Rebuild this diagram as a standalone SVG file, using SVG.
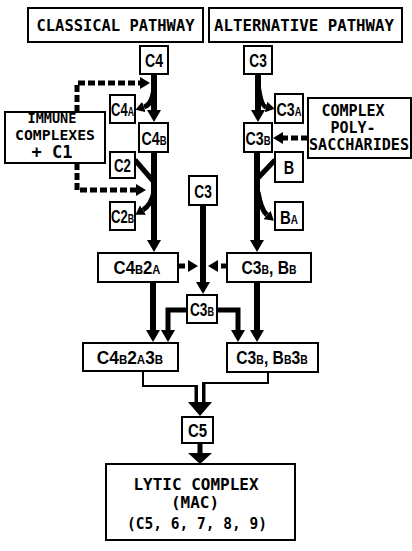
<svg xmlns="http://www.w3.org/2000/svg" width="412" height="551" viewBox="0 0 412 551">
<defs>
<style>
.box{fill:#fff;stroke:#000;stroke-width:2}
.th{fill:none;stroke:#000;stroke-width:6}
.md{fill:none;stroke:#000;stroke-width:5}
.da{fill:none;stroke:#000;stroke-width:5;stroke-dasharray:7 3}
.tn{fill:none;stroke:#000;stroke-width:2}
.mono{font-family:"DejaVu Sans Mono","Liberation Mono",monospace;font-weight:bold;fill:#000;text-anchor:middle}
.lb{font-family:"Liberation Sans","DejaVu Sans",sans-serif;font-weight:bold;font-size:18px;fill:#000;text-anchor:middle}
.sb{font-size:12px}
</style>
<marker id="ah" viewBox="0 0 12 14" refX="0" refY="7" markerWidth="12" markerHeight="14" markerUnits="userSpaceOnUse" orient="auto"><path d="M0,0L12,7L0,14z"/></marker>
<marker id="ahs" viewBox="0 0 9 11" refX="0" refY="5.5" markerWidth="9" markerHeight="11" markerUnits="userSpaceOnUse" orient="auto"><path d="M0,0L9,5.5L0,11z"/></marker>
<marker id="ahd" viewBox="0 0 10 12" refX="0" refY="6" markerWidth="10" markerHeight="12" markerUnits="userSpaceOnUse" orient="auto"><path d="M0,0L10,6L0,12z"/></marker>
</defs>
<rect width="412" height="551" fill="#fff"/>

<g id="connectors">
<path class="th" d="M154,74V110" marker-end="url(#ah)"/>
<path class="md" d="M154,86Q153,104 144,107" marker-end="url(#ahs)"/>
<path class="md" d="M135,160L154,182"/>
<path class="md" d="M154,192Q151,205 143,210" marker-end="url(#ahs)"/>
<path class="th" d="M154,152V240" marker-end="url(#ah)"/>
<path class="th" d="M258,74V110" marker-end="url(#ah)"/>
<path class="md" d="M258,84Q261,106 266,107" marker-end="url(#ahs)"/>
<path class="md" d="M275,160L258,178"/>
<path class="md" d="M258,192Q261,210 267,215" marker-end="url(#ahs)"/>
<path class="th" d="M257,152V240" marker-end="url(#ah)"/>
<path class="da" d="M77,112V83H140" marker-end="url(#ahd)"/>
<path class="da" d="M77,163V190H136" marker-end="url(#ahd)"/>
<path class="da" d="M308,138H283" marker-end="url(#ahd)"/>
<path class="da" d="M178,266H188" marker-end="url(#ahd)"/>
<path class="da" d="M228,266H218" marker-end="url(#ahd)"/>
<path class="th" d="M203,205V282" marker-end="url(#ah)"/>
<path class="th" d="M153,282V330" marker-end="url(#ah)"/>
<path class="th" d="M257,282V330" marker-end="url(#ah)"/>
<path class="md" d="M187,310H168V330" marker-end="url(#ah)"/>
<path class="md" d="M217,310H238V330" marker-end="url(#ah)"/>
<path class="tn" d="M143,371V386H197V402"/>
<path class="tn" d="M268,372V383H203V402"/>
<path d="M196,386V402M204,383V402" stroke="#000" stroke-width="3"/>
<polygon points="188,402 212,402 200,416"/>
<path class="md" d="M200,443V454"/>
<polygon points="188,453 212,453 200,464"/>
</g>

<g id="classical"><rect class="box" x="28" y="8" width="175" height="34"/><text class="mono" x="115.5" y="31" font-size="15.5" textLength="158" lengthAdjust="spacingAndGlyphs">CLASSICAL PATHWAY</text></g>
<g id="alternative"><rect class="box" x="209" y="8" width="193" height="34"/><text class="mono" x="304" y="31" font-size="15.5" textLength="180" lengthAdjust="spacingAndGlyphs">ALTERNATIVE PATHWAY</text></g>

<g id="immune"><rect class="box" x="5" y="112" width="100" height="51"/>
<text class="mono" x="52" y="123" font-size="13.5">IMMUNE</text>
<text class="mono" x="55" y="140" font-size="14" textLength="80" lengthAdjust="spacingAndGlyphs">COMPLEXES</text>
<text class="mono" x="52" y="158" font-size="17">+ C1</text></g>

<g id="polysacch"><rect class="box" x="308" y="98" width="103" height="60"/>
<text class="mono" x="353" y="116" font-size="15">COMPLEX</text>
<text class="mono" x="353" y="133" font-size="15">POLY-</text>
<text class="mono" x="359" y="150" font-size="15" textLength="100" lengthAdjust="spacingAndGlyphs">SACCHARIDES</text></g>

<g id="c4"><rect class="box" x="140" y="46" width="28" height="28"/><text class="lb" transform="translate(154,67) scale(0.78,1)">C4</text></g>
<g id="c4a"><rect class="box" x="110" y="95" width="25" height="28"/><text class="lb" transform="translate(122.5,116) scale(0.72,1)">C4<tspan class="sb">A</tspan></text></g>
<g id="c4b"><rect class="box" x="139" y="123" width="29" height="29"/><text class="lb" transform="translate(154,145) scale(0.79,1)">C4<tspan class="sb">B</tspan></text></g>
<g id="c2"><rect class="box" x="110" y="152" width="25" height="26"/><text class="lb" transform="translate(122.5,172) scale(0.74,1)">C2</text></g>
<g id="c2b"><rect class="box" x="110" y="202" width="25" height="28"/><text class="lb" transform="translate(122.5,223) scale(0.73,1)">C2<tspan class="sb">B</tspan></text></g>

<g id="c3r"><rect class="box" x="244" y="46" width="28" height="28"/><text class="lb" transform="translate(258,67) scale(0.76,1)">C3</text></g>
<g id="c3a"><rect class="box" x="275" y="94" width="28" height="29"/><text class="lb" transform="translate(289,116) scale(0.79,1)">C3<tspan class="sb">A</tspan></text></g>
<g id="c3b"><rect class="box" x="244" y="123" width="28" height="29"/><text class="lb" transform="translate(258,145) scale(0.79,1)">C3<tspan class="sb">B</tspan></text></g>
<g id="b"><rect class="box" x="275" y="152" width="28" height="30"/><text class="lb" transform="translate(289,174) scale(0.8,1)">B</text></g>
<g id="ba"><rect class="box" x="275" y="202" width="28" height="28"/><text class="lb" transform="translate(289,224) scale(0.83,1)">B<tspan class="sb">A</tspan></text></g>

<g id="c3m"><rect class="box" x="189" y="176" width="28" height="29"/><text class="lb" transform="translate(203,198) scale(0.76,1)">C3</text></g>
<g id="c4b2a"><rect class="box" x="98" y="253" width="80" height="29"/><text class="lb" transform="translate(137,274) scale(0.93,1)">C4<tspan class="sb">B</tspan>2<tspan class="sb">A</tspan></text></g>
<g id="c3bbb"><rect class="box" x="227" y="253" width="84" height="29"/><text class="lb" transform="translate(269,274) scale(0.87,1)">C3<tspan class="sb">B</tspan>, B<tspan class="sb">B</tspan></text></g>
<g id="c3bm"><rect class="box" x="187" y="295" width="30" height="28"/><text class="lb" transform="translate(202,316) scale(0.76,1)">C3<tspan class="sb">B</tspan></text></g>
<g id="c4b2a3b"><rect class="box" x="83" y="343" width="95" height="28"/><text class="lb" transform="translate(130,364) scale(0.96,1)">C4<tspan class="sb">B</tspan>2<tspan class="sb">A</tspan>3<tspan class="sb">B</tspan></text></g>
<g id="c3bbb3b"><rect class="box" x="227" y="343" width="91" height="29"/><text class="lb" transform="translate(272,364) scale(0.87,1)">C3<tspan class="sb">B</tspan>, B<tspan class="sb">B</tspan>3<tspan class="sb">B</tspan></text></g>
<g id="c5"><rect class="box" x="182" y="417" width="31" height="26"/><text class="lb" transform="translate(197.5,437) scale(0.83,1)">C5</text></g>

<g id="lytic"><rect class="box" x="106" y="464" width="189" height="76"/>
<text class="mono" x="196" y="490" font-size="16" textLength="125" lengthAdjust="spacingAndGlyphs">LYTIC COMPLEX</text>
<text class="mono" x="195" y="508" font-size="16">(MAC)</text>
<text class="mono" x="197" y="529" font-size="16" textLength="140" lengthAdjust="spacingAndGlyphs">(C5, 6, 7, 8, 9)</text></g>
</svg>
